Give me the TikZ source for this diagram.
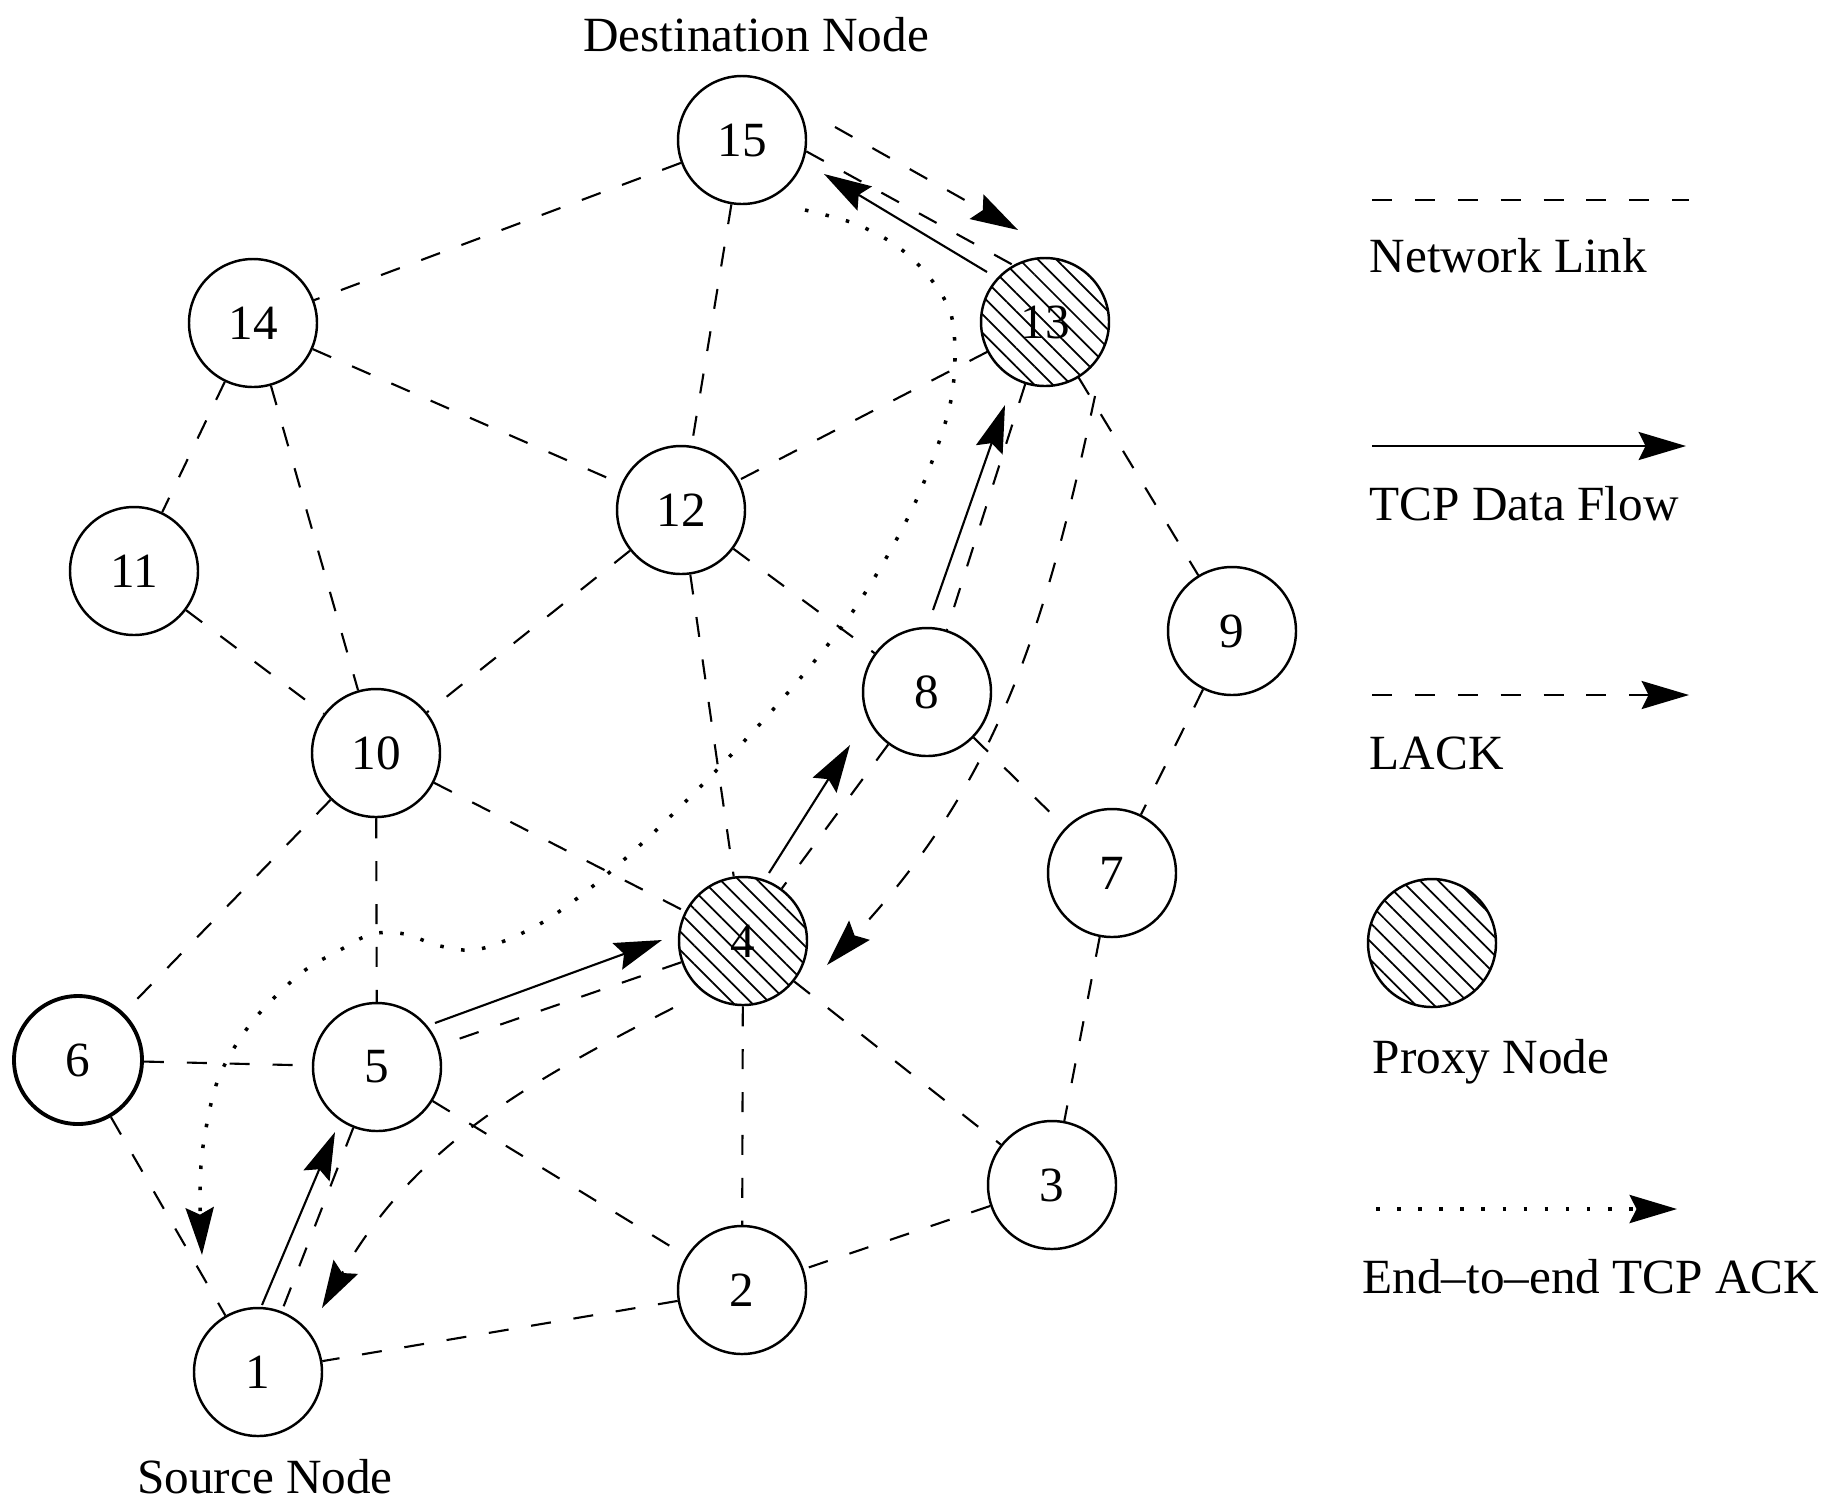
\documentclass[tikz,border=0pt]{standalone}
\usepackage{fontspec}
\setmainfont{Liberation Serif}
\usetikzlibrary{arrows.meta}
\usetikzlibrary{calc}
\usetikzlibrary{patterns.meta}
\def\nodesize{12.8mm}

\begin{document}
\begin{tikzpicture}[
    x=0.1mm, y=0.1mm,
    font=\fontsize{14}{16}\selectfont,
    tcptip/.style={
      -{Stealth[length=13.5pt,width=8pt,inset=2pt]}
    },
    station/.style={
      circle,draw,line width=0.7pt,minimum size=\nodesize,inner sep=0pt
    },
    proxy/.style={
      station,pattern={Lines[angle=-45,distance=3.7pt,line width=0.5pt]}
    },
    link/.style={
      line width=0.6pt,dash pattern=on 5.7pt off 6.5pt
    },
    data/.style={
      line width=0.6pt,tcptip
    },
    lack/.style={
      link,tcptip
    },
    ack/.style={
      line width=1pt,dash pattern=on 1pt off 5pt,tcptip
    },
    keytext/.style={
      anchor=base west,inner sep=0pt
    }
  ]
    \useasboundingbox (0,0) rectangle (1826,-1502);

    % stations
    \node[station] (n15) at (742,-140)  {15};
    \node[station] (n14) at (253,-323)  {14};
    \node[proxy]   (n13) at (1045,-322) {13};
    \node[station] (n12) at (681,-510)  {12};
    \node[station] (n11) at (134,-571)  {11};
    \node[station] (n9)  at (1232,-631) {9};
    \node[station] (n8)  at (927,-692)  {8};
    \node[station] (n10) at (376,-753)  {10};
    \node[station] (n7)  at (1112,-873) {7};
    \node[proxy]   (n4)  at (743,-941)  {4};
    \node[station,line width=1.1pt] (n6) at (78,-1060) {6};
    \node[station] (n5)  at (377,-1067) {5};
    \node[station] (n3)  at (1052,-1185) {3};
    \node[station] (n2)  at (742,-1290) {2};
    \node[station] (n1)  at (258,-1372) {1};

    \node[anchor=base] (dest) at (756,-51)  {Destination Node};
    \node[anchor=base] (src)  at (265,-1493) {Source Node};

    % network links
    \draw[link] (n15) -- (n14);
    \draw[link] (n15) -- (n12);
    \draw[link] (n15.-10) -- (n13.119);
    \draw[link] (n14) -- (n12);
    \draw[link] (n14) -- (n11);
    \draw[link] (n14) -- (n10);
    \draw[link] (n13) -- (n12);
    \draw[link] (n13) -- (n9);
    \draw[link] (n13) -- (n8);
    \draw[link] (n12) -- (n10);
    \draw[link] (n12) -- (n4);
    \draw[link] (n12) -- (n8);
    \draw[link] (n11) -- (n10);
    \draw[link] (n10) -- (n6);
    \draw[link] (n10) -- (n5);
    \draw[link] (n10) -- (n4);
    \draw[link] (n9)  -- (n7);
    \draw[link] (n8)  -- (n7);
    \draw[link] (n8)  -- (n4);
    \draw[link] (n7)  -- (n3);
    \draw[link] (n4)  -- (n5);
    \draw[link] (n4)  -- (n2);
    \draw[link] (n4)  -- (n3);
    \draw[link] (n6)  -- (n5);
    \draw[link] (n6)  -- (n1);
    \draw[link] (n5)  -- (n2);
    \draw[link] (n5)  -- (n1);
    \draw[link] (n3)  -- (n2);
    \draw[link] (n2)  -- (n1);

    % tcp data flow
    \draw[data] ($(n1)+(4,67)$)    -- ($(n5)+(-42,-65)$);
    \draw[data] ($(n5)+(58,44)$)   -- ($(n4)+(-81,1)$);
    \draw[data] ($(n4)+(26,68)$)   -- ($(n8)+(-77,-53)$);
    \draw[data] ($(n8)+(6,82)$)    -- ($(n13)+(-40,-83)$);
    \draw[data] ($(n13)+(-58,50)$) -- ($(n15)+(82,-34)$);

    % local acks
    \draw[lack] ($(n15)+(93,13)$)  --                  ($(n13)+(-27,92)$);
    \draw[lack] ($(n13)+(50,-74)$) to[out=258,in=47]   ($(n4)+(84,-24)$);
    \draw[lack] ($(n4)+(-70,-67)$) to[out=207,in=60]   ($(n1)+(64,64)$);

    % end-to-end ack
    \coordinate (ackA) at ($(n15)+(63,-70)$);
    \coordinate (ackB) at ($(n1)+(-56,117)$);
    \draw[ack] plot[smooth,tension=0.55] coordinates {(ackA) (853,-223) (894,-244) (926,-273)
      (950,-311) (955,-355) (951,-400) (938,-445) (915,-503) (885,-560) (849,-617) (808,-669)
      (760,-724) (706,-781) (650,-836) (593,-886) (538,-925) (480,-949) (440,-946) (405,-934)
      (372,-934) (340,-950) (300,-974) (252,-1022) (219,-1077) (204,-1140) (200,-1190) (ackB)};

    % key
    \coordinate (netA)  at (1372,-200);
    \coordinate (netB)  at (1689,-200);
    \coordinate (dataA) at (1372,-446);
    \coordinate (dataB) at (1686,-446);
    \coordinate (lackA) at (1372,-695);
    \coordinate (lackB) at (1689,-695);
    \coordinate (ackC)  at (1376,-1209);
    \coordinate (ackD)  at (1677,-1209);

    \draw[link] (netA)  -- (netB);
    \node[keytext] (netkey)  at (1369,-272)  {Network Link};
    \draw[data] (dataA) -- (dataB);
    \node[keytext] (datakey) at (1369,-520)  {TCP Data Flow};
    \draw[lack] (lackA) -- (lackB);
    \node[keytext] (lackkey) at (1369,-769)  {LACK};
    \node[proxy] (proxykey) at (1432,-943) {};
    \node[keytext] (proxytext) at (1372,-1073) {Proxy Node};
    \draw[ack]  (ackC)  -- (ackD);
    \node[keytext] (ackkey)  at (1362,-1293) {End--to--end TCP ACK};
  \end{tikzpicture}
\end{document}
